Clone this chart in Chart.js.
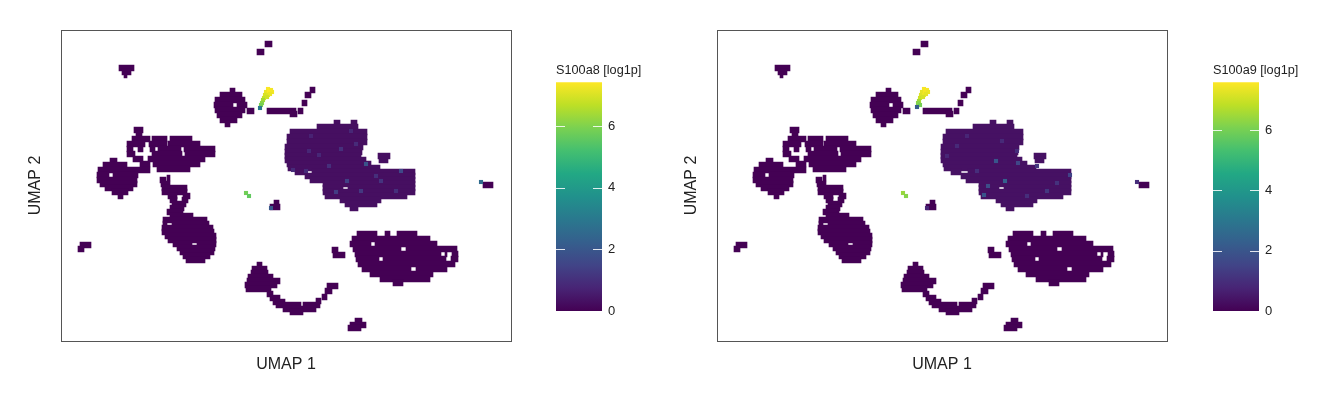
<!DOCTYPE html>
<html>
<head>
<meta charset="utf-8">
<script src="https://cdn.jsdelivr.net/npm/chart.js@4.4.1/dist/chart.umd.min.js"></script>
<style>
  html, body { margin: 0; padding: 0; background: #fff; }
  #wrap { position: relative; width: 1344px; height: 403px; overflow: hidden; }
  canvas { position: absolute; top: 0; }
</style>
</head>
<body>
<div id="wrap">
  <canvas id="umap8" width="530" height="403" style="left:0px"></canvas>
  <canvas id="bar8" width="130" height="403" style="left:556px"></canvas>
  <canvas id="umap9" width="530" height="403" style="left:656px"></canvas>
  <canvas id="bar9" width="130" height="403" style="left:1213px"></canvas>
</div>
<script>
// embedding shape, read off the hexbin: rows of filled cells [umap2, umap1 from, umap1 to]
// (axes are unlabelled, units are arbitrary: umap1 0..450, umap2 0..311)
var runsIslets = [
  [297, 204, 211], [289, 196, 203],                       // tiny bits at the top
  [273, 58, 73], [269, 61, 70], [266, 63, 66],            // top-left islet
  [96, 19, 30], [92, 17, 23],                             // left islet
  [138, 213, 218], [134, 209, 219],                       // small one under the green cells
  [91, 271, 277], [86, 272, 284],                         // left of the lower-right cluster
  [20, 294, 301], [16, 289, 305], [13, 287, 300],         // bottom islet
  [156, 422, 432]                                         // far right
];
var runsBlobC = [
  [250, 169, 174], [246, 159, 181], [241, 154, 184], [236, 153, 172], [236, 176, 186],
  [231, 154, 184], [226, 156, 181], [221, 159, 176], [217, 164, 169],
  [230, 186, 193], [230, 206, 235], [230, 237, 242], [227, 229, 236],
  [251, 249, 254], [246, 244, 250], [238, 241, 246]
];
var runsLeftGroup = [
  [211, 73, 82], [207, 75, 81],
  [202, 71, 89], [202, 91, 106], [202, 109, 131],
  [197, 66, 84], [197, 88, 106], [197, 107, 139],
  [192, 66, 72], [192, 77, 82], [192, 89, 94], [192, 97, 120], [192, 123, 154],
  [187, 66, 74], [187, 91, 121], [187, 124, 154],
  [182, 72, 82], [182, 87, 144],
  [177, 79, 89], [177, 92, 139],
  [172, 96, 129],
  [180, 49, 56], [176, 42, 66], [171, 37, 89], [166, 36, 48], [166, 52, 77],
  [161, 36, 76], [157, 39, 76], [153, 44, 72], [149, 51, 67], [145, 57, 62]
];
var runsStemF = [
  [163, 106, 109], [161, 99, 105], [157, 100, 109], [153, 101, 126], [149, 101, 126],
  [145, 107, 116], [145, 122, 129], [141, 109, 116], [141, 121, 127],
  [137, 111, 125], [133, 109, 123], [129, 106, 122],
  [125, 109, 132], [121, 102, 146], [117, 102, 106], [117, 111, 148], [113, 101, 152],
  [109, 101, 153], [105, 104, 155], [101, 107, 155], [97, 112, 131], [97, 136, 155],
  [93, 116, 154], [89, 119, 153], [85, 122, 149], [81, 125, 144]
];
var runsBottomH = [
  [76, 196, 201], [72, 191, 206], [68, 190, 207], [64, 187, 212], [60, 186, 219],
  [56, 184, 216], [52, 185, 210],
  [47, 206, 212], [43, 209, 219], [39, 212, 224], [36, 215, 240], [36, 242, 259],
  [32, 222, 255], [29, 229, 242], [40, 255, 260], [44, 261, 266], [50, 264, 271], [55, 266, 277]
];
var runsRightK = [
  [107, 296, 316], [107, 324, 329], [107, 336, 356],
  [102, 291, 369],
  [97, 289, 310], [97, 314, 376],
  [92, 292, 340], [92, 345, 396],
  [87, 294, 380], [87, 384, 386], [87, 391, 397],
  [82, 295, 318], [82, 322, 385], [82, 390, 397],
  [77, 297, 394],
  [72, 301, 350], [72, 355, 386],
  [67, 309, 372], [62, 319, 369], [58, 332, 342]
];
var runsBigL = [
  [218, 273, 279], [218, 290, 296], [214, 256, 297], [209, 229, 306], [204, 226, 306],
  [199, 226, 306], [194, 224, 302], [189, 224, 301],
  [185, 224, 300], [185, 317, 329], [181, 224, 305], [181, 318, 327],
  [177, 226, 310], [173, 227, 319], [169, 234, 244], [169, 251, 354],
  [165, 244, 354], [161, 249, 354], [157, 262, 354], [153, 262, 282], [153, 287, 354],
  [149, 262, 354], [145, 264, 346], [141, 279, 320], [137, 284, 316], [133, 289, 297]
];

// cells with a visible expression value, S100a8
var hotX8 = [207, 210, 205, 208, 204, 207, 203, 202, 201, 200, 199, 211, 209, 206, 185, 188, 210, 420,
  305, 340, 286, 280, 275, 232, 258, 295, 320, 268, 248, 300, 335, 250, 290, 245, 315];
var hotY8 = [252, 251, 249, 249, 246, 246, 243, 241, 238, 236, 233, 249, 247, 244, 148, 145, 133, 159,
  177, 170, 160, 192, 149, 171, 186, 197, 160, 175, 190, 150, 150, 205, 210, 170, 165];
var hotV8 = [7.4, 7.3, 7.2, 7.4, 7.0, 7.1, 6.8, 6.4, 6.1, 5.9, 3.0, 7.3, 7.2, 6.9, 5.8, 5.6, 2.0, 2.6,
  1.9, 1.6, 1.4, 1.0, 1.3, 0.9, 0.8, 0.9, 1.1, 1.0, 0.8, 1.2, 1.0, 0.7, 0.8, 0.9, 1.0];
// and S100a9
var hotX9 = [207, 210, 205, 208, 204, 207, 203, 202, 201, 203, 200, 211, 209, 206, 186, 189, 210, 420,
  279, 288, 271, 267, 301, 353, 240, 260, 320, 230, 300, 340, 250, 285, 330, 310];
var hotY9 = [252, 251, 249, 249, 246, 246, 243, 240, 238, 236, 234, 249, 247, 244, 148, 145, 133, 159,
  180, 160, 155, 146, 178, 166, 195, 170, 175, 185, 190, 158, 205, 200, 150, 145];
var hotV9 = [7.5, 7.5, 7.3, 7.5, 7.2, 7.4, 7.0, 6.5, 6.2, 6.0, 2.2, 7.4, 7.3, 7.1, 6.4, 6.2, 0.8, 1.0,
  2.0, 2.3, 1.8, 2.0, 1.6, 1.5, 0.9, 1.0, 1.2, 0.8, 1.0, 1.1, 0.8, 0.9, 1.2, 1.0];

var bigVal8 = 0.3, bigVal9 = 0.35;      // mean level of the large cluster
var barMax8 = 7.42, barMax9 = 7.58;
var barTicks = [0, 2, 4, 6];

var viridis = ['#440154', '#482475', '#414487', '#355f8d', '#2a788e', '#21918c',
  '#22a884', '#44bf70', '#7ad151', '#bddf26', '#fde725'];
var textColor = '#222';

Chart.defaults.font.family = '"Liberation Sans", Arial, Helvetica, sans-serif';
Chart.defaults.color = textColor;

function hexRgb(h) {
  return [1, 3, 5].map(function (i) { return parseInt(h.substr(i, 2), 16); });
}
function viridisAt(t) {
  t = Math.max(0, Math.min(1, t)) * (viridis.length - 1);
  var i = Math.min(Math.floor(t), viridis.length - 2), f = t - i;
  var a = hexRgb(viridis[i]), b = hexRgb(viridis[i + 1]);
  return 'rgb(' + [0, 1, 2].map(function (k) {
    return Math.round(a[k] + (b[k] - a[k]) * f);
  }).join(',') + ')';
}

var frame = { display: true, color: '#555', width: 1 };
var noGrid = { display: false, drawTicks: false };

function umapChart(id, hotX, hotY, hotV, cmax, bigVal) {
  var small = [].concat(runsIslets, runsBlobC, runsLeftGroup, runsStemF, runsBottomH, runsRightK);
  var bars = [], colors = [];
  small.forEach(function (r) { bars.push({ y: r[0], x: [r[1], r[2]] }); colors.push(viridis[0]); });
  runsBigL.forEach(function (r) { bars.push({ y: r[0], x: [r[1], r[2]] }); colors.push(viridisAt(bigVal / cmax)); });

  return new Chart(document.getElementById(id), {
    type: 'bar',
    data: {
      datasets: [{
        type: 'scatter',
        data: hotX.map(function (x, i) { return { x: x, y: hotY[i] }; }),
        pointStyle: 'rect',
        pointRadius: 2.9,
        borderWidth: 0,
        backgroundColor: hotV.map(function (v) { return viridisAt(v / cmax); }),
        xAxisID: 'x', yAxisID: 'y',
        order: 0
      }, {
        type: 'bar',
        indexAxis: 'y',
        data: bars,
        backgroundColor: colors,
        borderWidth: 0,
        barThickness: 5.8,
        xAxisID: 'x', yAxisID: 'y',
        order: 1
      }]
    },
    options: {
      responsive: false,
      animation: false,
      events: [],
      layout: { padding: { left: 25.8, top: 30, right: 19, bottom: 24.8 } },
      plugins: { legend: { display: false }, tooltip: { enabled: false } },
      scales: {
        x: {
          type: 'linear', min: 0, max: 450, stacked: false, offset: false,
          ticks: { display: false }, grid: noGrid, border: frame,
          title: { display: true, text: 'UMAP 1', font: { size: 16 }, padding: { top: 14, bottom: 4 }, color: textColor }
        },
        y: {
          type: 'linear', min: 0, max: 311, offset: false,
          ticks: { display: false }, grid: noGrid, border: frame,
          title: { display: true, text: 'UMAP 2', font: { size: 16 }, padding: { top: 0, bottom: 16 }, color: textColor }
        },
        x2: { type: 'linear', position: 'top', min: 0, max: 450, offset: false, ticks: { display: false }, grid: noGrid, border: frame },
        y2: { type: 'linear', position: 'right', min: 0, max: 311, offset: false, ticks: { display: false }, grid: noGrid, border: frame }
      }
    }
  });
}

// short white marks on both edges of the colour bar at each tick
var whiteMarks = {
  id: 'whiteMarks',
  afterDatasetsDraw: function (chart) {
    var ctx = chart.ctx, a = chart.chartArea, y = chart.scales.y;
    ctx.save();
    ctx.strokeStyle = 'rgba(255,255,255,0.85)';
    ctx.lineWidth = 1;
    y.ticks.forEach(function (t) {
      var py = Math.round(y.getPixelForValue(t.value)) + 0.5;
      ctx.beginPath();
      ctx.moveTo(a.left, py); ctx.lineTo(a.left + 9, py);
      ctx.moveTo(a.right - 9, py); ctx.lineTo(a.right, py);
      ctx.stroke();
    });
    ctx.restore();
  }
};

function colorbar(id, title, cmax) {
  return new Chart(document.getElementById(id), {
    type: 'bar',
    data: {
      labels: [''],
      datasets: [{
        data: [[0, cmax]],
        backgroundColor: function (c) {
          var a = c.chart.chartArea;
          if (!a) return viridis[0];
          var g = c.chart.ctx.createLinearGradient(0, a.bottom, 0, a.top);
          viridis.forEach(function (col, i) { g.addColorStop(i / (viridis.length - 1), col); });
          return g;
        },
        barPercentage: 1,
        categoryPercentage: 1,
        borderWidth: 0
      }]
    },
    options: {
      responsive: false,
      animation: false,
      events: [],
      layout: { padding: { top: 55, bottom: 92, left: 0, right: 0 } },
      plugins: {
        legend: { display: false },
        tooltip: { enabled: false },
        title: { display: true, text: title, align: 'start', font: { size: 12.7, weight: 'normal' },
                 padding: { top: 8, bottom: 4 }, color: textColor }
      },
      scales: {
        x: { display: false },
        y: {
          position: 'right', min: 0, max: cmax,
          grid: noGrid, border: { display: false },
          ticks: { padding: 6, font: { size: 13 }, color: textColor },
          afterBuildTicks: function (s) { s.ticks = barTicks.map(function (v) { return { value: v }; }); },
          afterFit: function (s) { s.width = 84; }
        }
      }
    },
    plugins: [whiteMarks]
  });
}

umapChart('umap8', hotX8, hotY8, hotV8, barMax8, bigVal8);
colorbar('bar8', 'S100a8 [log1p]', barMax8);
umapChart('umap9', hotX9, hotY9, hotV9, barMax9, bigVal9);
colorbar('bar9', 'S100a9 [log1p]', barMax9);
</script>
</body>
</html>
